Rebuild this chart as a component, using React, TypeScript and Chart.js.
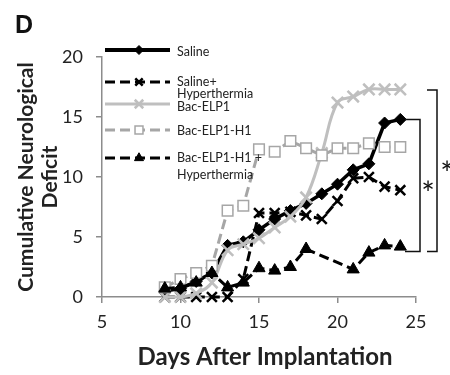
import React, { useEffect, useRef } from 'react';
import { Chart, registerables } from 'chart.js';

Chart.register(...registerables);

// ---- data ----
const days = [9, 10, 11, 12, 13, 14, 15, 16, 17, 18, 19, 20, 21, 22, 23, 24];
const saline = [0.5, 0.7, 1.3, 2.0, 4.3, 4.6, 5.6, 6.5, 7.2, 7.8, 8.6, 9.4, 10.6, 11.1, 14.5, 14.8];
const salineHyperthermia = [0, 0, 0, 0, 0, 1.5, 7.0, 7.0, 7.1, 6.8, 6.5, 8.0, 9.9, 10.0, 9.2, 8.9];
const bacElp1 = [0, 0, 0.3, 1.2, 3.9, 4.4, 4.9, 5.8, 6.7, 8.3, 12.0, 16.2, 16.7, 17.3, 17.3, 17.3];
const bacElp1H1 = [0.8, 1.5, 2.0, 2.6, 7.2, 7.6, 12.3, 12.1, 13.0, 12.4, 11.8, 12.4, 12.4, 12.8, 12.5, 12.5];
const bacElp1H1Hyperthermia = [0.7, 0.8, 1.2, 2.0, 0.8, 1.2, 2.4, 2.2, 2.5, 4.0, null, null, 2.3, 3.7, 4.3, 4.2];

const seriesNames = ['Saline', 'Saline+ Hyperthermia', 'Bac-ELP1', 'Bac-ELP1-H1', 'Bac-ELP1-H1 + Hyperthermia'];
const legendLines = [['Saline'], ['Saline+', 'Hyperthermia'], ['Bac-ELP1'], ['Bac-ELP1-H1'], ['Bac-ELP1-H1 +', 'Hyperthermia']];
const xTicks = [5, 10, 15, 20, 25];
const yTicks = [0, 5, 10, 15, 20];
const xTitle = 'Days After Implantation';
const yTitle = ['Cumulative Neurological', 'Deficit'];
const panelLabel = 'D';
// significance brackets: [top value, bottom value]
const sigInner = [14.8, 3.8];
const sigOuter = [17.25, 3.8];
const sigLabel = '*';

const FONT = 'Lato';

function toPoints(arr: (number | null)[]) {
  return days.map((d, i) => ({ x: d, y: arr[i] }));
}

function drawMarker(ctx: CanvasRenderingContext2D, style: string, x: number, y: number, r: number, fill: string, stroke: string, lw: number) {
  ctx.save();
  ctx.setLineDash([]);
  ctx.lineWidth = lw;
  ctx.strokeStyle = stroke;
  ctx.fillStyle = fill;
  ctx.beginPath();
  if (style === 'rectRot') {
    ctx.moveTo(x, y - r); ctx.lineTo(x + r, y); ctx.lineTo(x, y + r); ctx.lineTo(x - r, y); ctx.closePath();
    ctx.fill(); ctx.stroke();
  } else if (style === 'crossRot') {
    const o = r * Math.SQRT1_2;
    ctx.moveTo(x - o, y - o); ctx.lineTo(x + o, y + o);
    ctx.moveTo(x + o, y - o); ctx.lineTo(x - o, y + o);
    ctx.stroke();
  } else if (style === 'rect') {
    const s = r * Math.SQRT1_2;
    ctx.rect(x - s, y - s, 2 * s, 2 * s);
    ctx.fill(); ctx.stroke();
  } else if (style === 'triangle') {
    ctx.moveTo(x, y - r); ctx.lineTo(x + 0.866 * r, y + 0.5 * r); ctx.lineTo(x - 0.866 * r, y + 0.5 * r); ctx.closePath();
    ctx.fill(); ctx.stroke();
  }
  ctx.restore();
}

const overlayPlugin = {
  id: 'overlay',
  afterDraw(chart: any) {
    const { ctx, chartArea, scales } = chart;
    const ys = scales.y;
    ctx.save();
    // panel label
    ctx.fillStyle = '#111';
    ctx.font = `bold 25px "Liberation Sans"`;
    ctx.textAlign = 'left';
    ctx.textBaseline = 'alphabetic';
    ctx.fillText(panelLabel, 15, 33);

    // x axis title
    ctx.fillStyle = '#222';
    ctx.font = `bold 24px ${FONT}`;
    ctx.textAlign = 'center';
    ctx.textBaseline = 'middle';
    ctx.fillText(xTitle, 265, 357);

    // legend
    const lineYs = [50, 82, 104, 130, 158];
    const textYs = [52, 82, 107, 131, 158];
    const secondLineGap = [0, 12, 0, 0, 17];
    const lx0 = 105, lx1 = 170, mx = 139, tx = 177;
    chart.data.datasets.forEach((ds: any, i: number) => {
      const y = lineYs[i];
      ctx.save();
      ctx.strokeStyle = ds.borderColor;
      ctx.lineWidth = i === 0 ? 4 : ds.borderWidth;
      ctx.setLineDash(ds.borderDash || []);
      ctx.beginPath();
      ctx.moveTo(lx0, y);
      ctx.lineTo(lx1, y);
      ctx.stroke();
      ctx.restore();
      drawMarker(ctx, ds.pointStyle, mx, y, ds.pointRadius * 0.75, ds.pointBackgroundColor, ds.pointBorderColor, ds.pointBorderWidth);
      ctx.font = `12.5px ${FONT}`;
      ctx.fillStyle = '#222';
      ctx.textAlign = 'left';
      ctx.textBaseline = 'middle';
      legendLines[i].forEach((t, j) => ctx.fillText(t, tx, textYs[i] + j * secondLineGap[i]));
    });

    // significance brackets
    const R = chartArea.right;
    ctx.strokeStyle = '#111';
    ctx.lineWidth = 1.5;
    ctx.setLineDash([]);
    const iTop = ys.getPixelForValue(sigInner[0]);
    const iBot = ys.getPixelForValue(sigInner[1]);
    ctx.beginPath();
    ctx.moveTo(R - 11, iTop); ctx.lineTo(R + 4, iTop); ctx.lineTo(R + 4, iBot); ctx.lineTo(R - 11, iBot);
    ctx.stroke();
    const oTop = ys.getPixelForValue(sigOuter[0]);
    const oBot = ys.getPixelForValue(sigOuter[1]);
    ctx.beginPath();
    ctx.moveTo(R + 11, oTop); ctx.lineTo(R + 21, oTop); ctx.lineTo(R + 21, oBot); ctx.lineTo(R + 11, oBot);
    ctx.stroke();
    ctx.fillStyle = '#111';
    ctx.font = `32px ${FONT}`;
    ctx.textAlign = 'center';
    ctx.textBaseline = 'middle';
    ctx.fillText(sigLabel, R + 12, (iTop + iBot) / 2 + 9);
    ctx.fillText(sigLabel, R + 31, (oTop + oBot) / 2 + 4);
    ctx.restore();
  },
};

export default function App() {
  const ref = useRef<HTMLCanvasElement>(null);
  useEffect(() => {
    const axisColor = '#8c8c8c';
    const chart = new Chart(ref.current as HTMLCanvasElement, {
      type: 'line',
      data: {
        datasets: [
          {
            label: seriesNames[0], data: toPoints(saline), borderColor: '#000', borderWidth: 3.5,
            pointStyle: 'rectRot', pointRadius: 6, pointBackgroundColor: '#000', pointBorderColor: '#000', pointBorderWidth: 1,
            tension: 0, order: 5, clip: false,
          },
          {
            label: seriesNames[1], data: toPoints(salineHyperthermia), borderColor: '#000', borderWidth: 3, borderDash: [10, 5],
            pointStyle: 'crossRot', pointRadius: 7, pointBackgroundColor: '#000', pointBorderColor: '#000', pointBorderWidth: 2.5,
            tension: 0, order: 4, clip: false,
          },
          {
            label: seriesNames[2], data: toPoints(bacElp1), borderColor: '#bfbfbf', borderWidth: 3,
            pointStyle: 'crossRot', pointRadius: 8, pointBackgroundColor: '#bfbfbf', pointBorderColor: '#bfbfbf', pointBorderWidth: 2.5,
            tension: 0.4, order: 3, clip: false,
          },
          {
            label: seriesNames[3], data: toPoints(bacElp1H1), borderColor: '#a6a6a6', borderWidth: 3, borderDash: [10, 5],
            pointStyle: 'rect', pointRadius: 7.5, pointBackgroundColor: '#ffffff', pointBorderColor: '#a6a6a6', pointBorderWidth: 1.5,
            tension: 0, order: 2, clip: false,
          },
          {
            label: seriesNames[4], data: toPoints(bacElp1H1Hyperthermia), borderColor: '#000', borderWidth: 3, borderDash: [10, 5],
            pointStyle: 'triangle', pointRadius: 7, pointBackgroundColor: '#000', pointBorderColor: '#000', pointBorderWidth: 1,
            tension: 0, order: 1, spanGaps: true, clip: false,
          },
        ] as any,
      },
      options: {
        responsive: true,
        maintainAspectRatio: false,
        animation: false,
        devicePixelRatio: 1,
        layout: { padding: { left: 0, right: 34, top: 57, bottom: 0 } },
        plugins: { legend: { display: false }, tooltip: { enabled: false } },
        scales: {
          x: {
            type: 'linear', min: 5, max: 25,
            afterBuildTicks: (s: any) => { s.ticks = xTicks.map((v) => ({ value: v })); },
            ticks: { font: { family: FONT, size: 18 }, color: '#222', padding: 8 },
            grid: { drawOnChartArea: false, drawTicks: true, tickLength: 6, color: axisColor, lineWidth: 1.5 },
            border: { color: axisColor, width: 1.5 },
            title: { display: false },
            afterFit: (s: any) => { s.height = 78; },
          },
          y: {
            type: 'linear', min: 0, max: 20,
            afterBuildTicks: (s: any) => { s.ticks = yTicks.map((v) => ({ value: v })); },
            ticks: { font: { family: FONT, size: 18 }, color: '#222', padding: 13 },
            grid: { drawOnChartArea: false, drawTicks: true, tickLength: 6, color: axisColor, lineWidth: 1.5 },
            border: { color: axisColor, width: 1.5 },
            title: { display: true, text: yTitle, font: { family: FONT, size: 21, weight: 'bold', lineHeight: '24px' }, color: '#222', padding: { top: 14, bottom: 0 } },
            afterFit: (s: any) => { s.width = 102; },
          },
        },
      } as any,
      plugins: [overlayPlugin],
    });
    return () => chart.destroy();
  }, []);
  return (
    <div style={{ position: 'absolute', left: 0, top: 0, width: 450, height: 375, background: '#fff' }}>
      <canvas ref={ref} />
    </div>
  );
}
